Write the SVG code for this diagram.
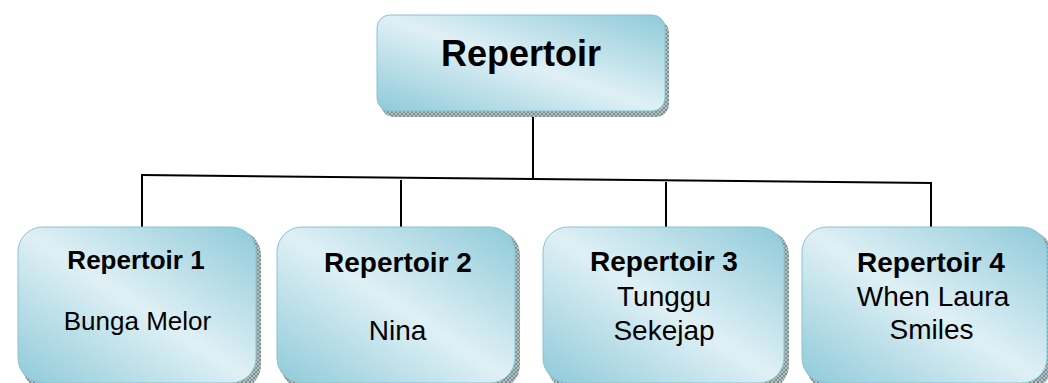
<svg xmlns="http://www.w3.org/2000/svg" width="1048" height="383" viewBox="0 0 1048 383">
  <style>
    .box { fill: url(#boxGrad); stroke: #86c4d4; stroke-width: 1; }
    .shadow { fill: url(#hatch); }
    .t { font-family: "Liberation Sans", Arial, sans-serif; fill: #000; text-anchor: middle; }
    .b { font-weight: bold; }
    .conn { stroke: #000; stroke-width: 2; fill: none; stroke-linecap: square; }
  </style>
  <defs>
    <linearGradient id="boxGrad" x1="0" y1="1" x2="1" y2="0">
      <stop offset="0" stop-color="#8fcad9"/>
      <stop offset="0.5" stop-color="#dff0f5"/>
      <stop offset="1" stop-color="#8fcad9"/>
    </linearGradient>
    <pattern id="hatch" width="4" height="4" patternUnits="userSpaceOnUse">
      <rect width="4" height="4" fill="#b4c2c4"/>
      <path d="M0 0L4 4M4 0L0 4" stroke="#6f8284" stroke-width="0.8"/>
    </pattern>
  </defs>
  <rect width="1048" height="383" fill="#fff"/>

  <g id="connectors">
    <line class="conn" x1="533" y1="112" x2="533" y2="178"/>
    <line class="conn" x1="142" y1="175" x2="931" y2="183"/>
    <line class="conn" x1="142" y1="175" x2="142" y2="227"/>
    <line class="conn" x1="401" y1="181" x2="401" y2="227"/>
    <line class="conn" x1="666" y1="183" x2="666" y2="227"/>
    <line class="conn" x1="931" y1="183" x2="931" y2="227"/>
  </g>

  <g id="root">
    <rect class="shadow" x="381" y="20" width="288" height="97" rx="13"/>
    <rect class="box" x="377" y="15" width="288" height="96" rx="13"/>
    <text class="t b" x="521" y="66" font-size="36">Repertoir</text>
  </g>

  <g id="rep1">
    <rect class="shadow" x="22" y="230" width="239" height="160" rx="25"/>
    <rect class="box" x="18" y="227" width="238" height="156" rx="25"/>
    <text class="t b" x="136" y="269" font-size="26">Repertoir 1</text>
    <text class="t" x="137.5" y="330" font-size="26">Bunga Melor</text>
  </g>

  <g id="rep2">
    <rect class="shadow" x="281" y="230" width="239" height="160" rx="25"/>
    <rect class="box" x="277" y="227" width="238" height="156" rx="25"/>
    <text class="t b" x="398" y="271.5" font-size="28">Repertoir 2</text>
    <text class="t" x="397.5" y="340" font-size="28">Nina</text>
  </g>

  <g id="rep3">
    <rect class="shadow" x="547" y="230" width="242" height="160" rx="25"/>
    <rect class="box" x="543" y="227" width="241" height="156" rx="25"/>
    <text class="t b" x="664" y="271" font-size="28">Repertoir 3</text>
    <text class="t" x="664" y="306" font-size="28">Tunggu</text>
    <text class="t" x="664" y="339.5" font-size="28">Sekejap</text>
  </g>

  <g id="rep4">
    <rect class="shadow" x="806" y="230" width="246" height="160" rx="25"/>
    <rect class="box" x="802" y="227" width="245" height="156" rx="25"/>
    <text class="t b" x="931" y="271.5" font-size="28">Repertoir 4</text>
    <text class="t" x="933" y="306" font-size="28">When Laura</text>
    <text class="t" x="931.5" y="338.5" font-size="28">Smiles</text>
  </g>
</svg>
